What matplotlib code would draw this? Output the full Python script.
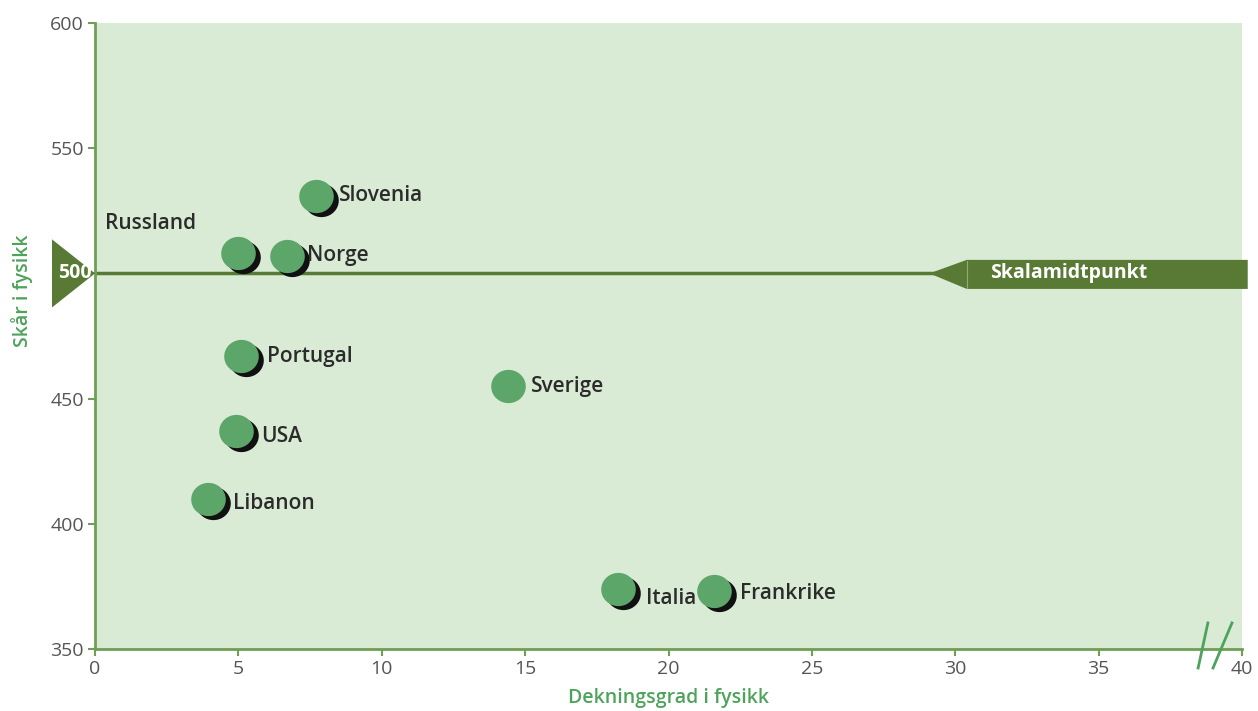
import matplotlib
matplotlib.use("Agg")
import matplotlib.pyplot as plt
import numpy as np
from matplotlib.path import Path
from matplotlib.patches import Polygon
import matplotlib.transforms as mtransforms

plt.rcParams['font.family'] = ['Open Sans', 'DejaVu Sans']

# Data
countries = ["Slovenia", "Russland", "Norge", "Portugal", "Sverige", "USA", "Libanon", "Italia", "Frankrike"]
coverage = [7.7, 5.0, 6.7, 5.1, 14.4, 4.9, 3.95, 18.25, 21.6]
score = [531, 508, 507, 467, 455, 437, 410, 374, 373]
has_shadow = [True, True, True, True, False, True, True, True, True]
# label anchor (x, y) in data units, left-aligned
label_x = [8.5, 0.35, 7.4, 6.0, 15.2, 5.8, 4.8, 19.2, 22.5]
label_y = [531, 520, 507, 467, 455, 435, 408, 370, 372]

x_ticks = [0, 5, 10, 15, 20, 25, 30, 35, 40]
y_ticks = [350, 400, 450, 500, 550, 600]
y_ticklabels = ["350", "400", "450", "", "550", "600"]
midpoint = 500

BG = "#d9ead5"
AXIS_GREEN = "#6f9e55"
DARK_OLIVE = "#587a35"
DOT_GREEN = "#5da66a"
LABEL_GREEN = "#4ea35c"
TEXT = "#2b2b2b"

fig = plt.figure(figsize=(12.58, 7.11), dpi=100)
ax = fig.add_axes([95 / 1258, 1 - 649 / 711, 1147 / 1258, 626 / 711])
ax.set_facecolor(BG)
ax.set_xlim(0, 40)
ax.set_ylim(350, 600)

for s in ("top", "right"):
    ax.spines[s].set_visible(False)
for s in ("left", "bottom"):
    ax.spines[s].set_color(AXIS_GREEN)
    ax.spines[s].set_linewidth(2)

ax.set_xticks(x_ticks)
ax.set_yticks(y_ticks)
ax.set_yticklabels(y_ticklabels)
ax.tick_params(axis="both", colors=AXIS_GREEN, labelcolor="#555555", labelsize=14,
               length=5, width=1.5, pad=3)

ax.set_ylabel("Skår i fysikk", color=LABEL_GREEN, fontsize=14, fontweight="semibold")
ax.yaxis.set_label_coords(-0.054, 0.573)
ax.set_xlabel("Dekningsgrad i fysikk", color=LABEL_GREEN, fontsize=14,
              fontweight="semibold")
ax.xaxis.set_label_coords(0.5, -0.062)

# midpoint line
ax.axhline(midpoint, color=DARK_OLIVE, lw=2.5, zorder=2)

# slightly wide ellipse marker
t = np.linspace(0, 2 * np.pi, 64)
ell = Path(np.column_stack([1.04 * np.cos(t), np.sin(t)]), closed=True)

cx = np.array(coverage)
cy = np.array(score)
sh = np.array(has_shadow)
# shadow discs offset by a few pixels
off = mtransforms.offset_copy(ax.transData, fig=fig, x=5, y=-4, units="dots")
ax.scatter(cx[sh], cy[sh], s=620, marker=ell, color="#111111", zorder=3,
           transform=off, linewidths=0)
ax.scatter(cx, cy, s=620, marker=ell, color=DOT_GREEN, zorder=4, linewidths=0)

for name, lx, ly in zip(countries, label_x, label_y):
    ax.text(lx, ly, name, fontsize=15, fontweight="semibold", color=TEXT,
            ha="left", va="center", zorder=5)

# left triangle with 500
blend = mtransforms.blended_transform_factory(ax.transAxes, ax.transData)
tri = Polygon([(-43 / 1147, 513.6), (-43 / 1147, 486.4), (0, midpoint)], closed=True,
              transform=blend, facecolor=DARK_OLIVE, edgecolor="none", clip_on=False, zorder=6)
ax.add_patch(tri)
ax.text(-0.0025, midpoint, "500", transform=blend, ha="right", va="center",
        color="white", fontsize=14, fontweight="bold", zorder=7, clip_on=False)

# right arrow label
arrow = Polygon([(29.1, midpoint), (30.4, 505.4), (40.2, 505.4), (40.2, 493.8), (30.4, 493.8)],
                closed=True, facecolor=DARK_OLIVE, edgecolor="none", clip_on=False, zorder=6)
ax.add_patch(arrow)
ax.plot([30.4, 30.4], [494.2, 505.0], color="#8fae72", lw=0.8, zorder=6.5, clip_on=False)
ax.text(31.2, midpoint, "Skalamidtpunkt", ha="left", va="center", color="white",
        fontsize=14, fontweight="bold", zorder=7, clip_on=False)

# axis break marks
ax.plot([38.47, 38.81], [342.4, 360.4], color=LABEL_GREEN, lw=2, clip_on=False, zorder=6)
ax.plot([38.99, 39.65], [342.4, 360.4], color=LABEL_GREEN, lw=2, clip_on=False, zorder=6)

fig.savefig("out.png", dpi=100, facecolor="white")
